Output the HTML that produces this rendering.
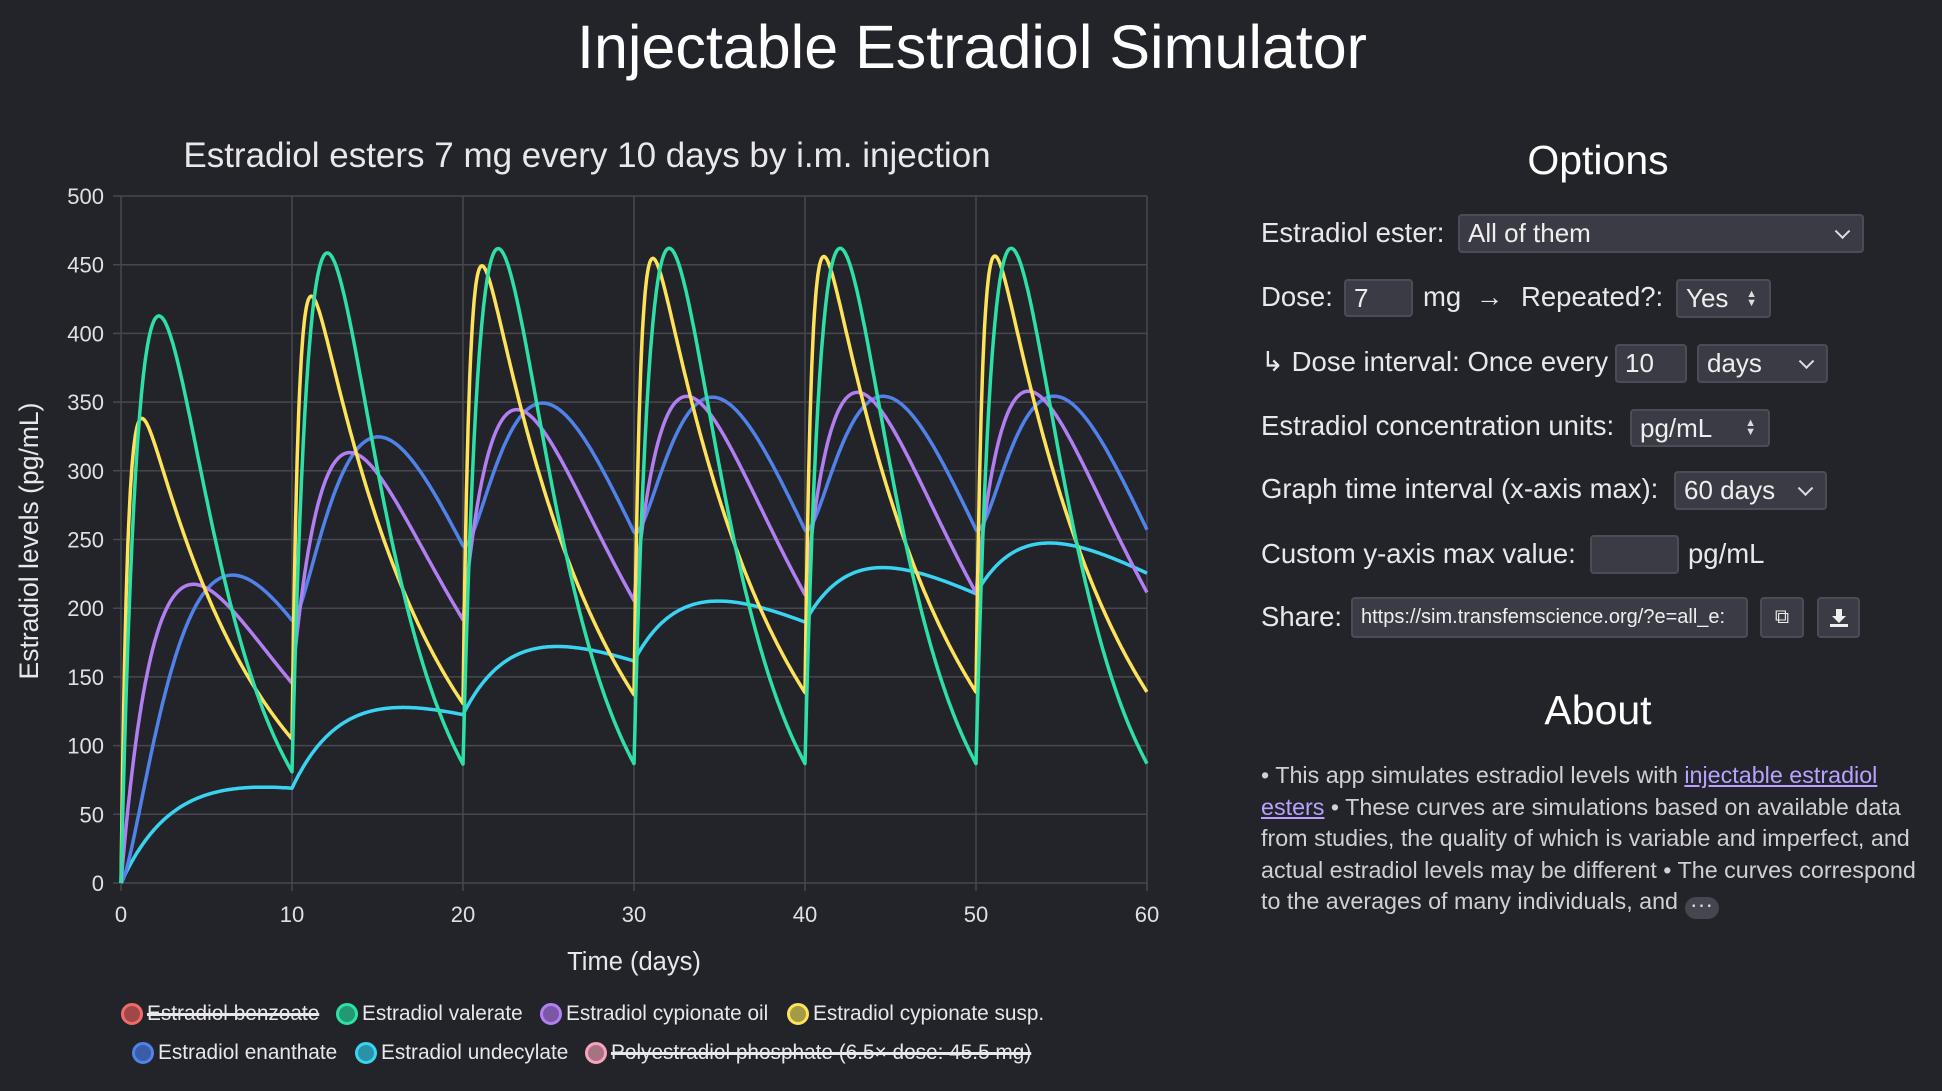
<!DOCTYPE html>
<html><head><meta charset="utf-8">
<style>
body{margin:0;width:1942px;height:1091px;background:#232429;color:#e8e8ec;font-family:"Liberation Sans",sans-serif;overflow:hidden;position:relative}
.a{position:absolute;white-space:nowrap}
.lbl{font-size:27.5px;line-height:30px}
.ctl{position:absolute;background:#3a3b44;border:2px solid #4b4c56;border-radius:4px;box-sizing:border-box;font-size:26px;color:#eee;padding-left:8px;display:flex;align-items:center}
.chev{position:absolute;right:14px;top:50%;width:9px;height:9px;border-right:2px solid #ddd;border-bottom:2px solid #ddd;transform:translateY(-75%) rotate(45deg)}
.spin{position:absolute;right:12px;top:50%;transform:translateY(-50%);font-size:11px;line-height:9px;color:#ddd;text-align:center}
.leg{position:absolute;font-size:20.8px;line-height:24px;white-space:nowrap}
.dot{display:inline-block;width:16px;height:16px;border-radius:50%;border:3px solid;vertical-align:-5px;margin-right:4px}
.st{text-decoration:line-through;text-decoration-thickness:3px}
.about{position:absolute;left:1261px;top:760px;width:680px;font-size:23.3px;line-height:31.5px;color:#cfcfd4;white-space:nowrap}
.about a{color:#b9a2ff;text-decoration:underline}
</style></head><body>
<div class="a" style="left:0;width:1944px;text-align:center;top:13px;font-size:61px;line-height:68px;color:#fff">Injectable Estradiol Simulator</div>
<div class="a" style="left:0;width:1174px;text-align:center;top:136px;font-size:35px;line-height:40px;color:#e8e8ec">Estradiol esters 7 mg every 10 days by i.m. injection</div>

<svg class="a" style="left:0;top:0" width="1200" height="1091" id="chart">
<g id="grid" stroke="#47484e" stroke-width="1.5"></g>
<g id="ylab" font-family="Liberation Sans" font-size="22" fill="#e0e0e4" text-anchor="end"></g>
<g id="xlab" font-family="Liberation Sans" font-size="22" fill="#e0e0e4" text-anchor="middle"></g>
<text x="31" y="541" transform="rotate(-90 31 541)" text-anchor="middle" dominant-baseline="middle" font-family="Liberation Sans" font-size="26.5" fill="#e8e8ec">Estradiol levels (pg/mL)</text>
<text x="634" y="970" text-anchor="middle" font-family="Liberation Sans" font-size="25.5" fill="#e8e8ec">Time (days)</text>
<g id="curves" fill="none" stroke-width="3.5" stroke-linejoin="round"></g>
</svg>

<div class="leg" style="left:121px;top:1002px"><span class="dot" style="border-color:#f06a6a;background:#a04848"></span><span class="st">Estradiol benzoate</span></div>
<div class="leg" style="left:336px;top:1002px"><span class="dot" style="border-color:#2fe0a6;background:#229873"></span>Estradiol valerate</div>
<div class="leg" style="left:540px;top:1002px"><span class="dot" style="border-color:#b27ff2;background:#7a58a6"></span>Estradiol cypionate oil</div>
<div class="leg" style="left:787px;top:1002px"><span class="dot" style="border-color:#fde25a;background:#a49a48"></span>Estradiol cypionate susp.</div>
<div class="leg" style="left:132px;top:1041px"><span class="dot" style="border-color:#5082ea;background:#3b5ca6"></span>Estradiol enanthate</div>
<div class="leg" style="left:355px;top:1041px"><span class="dot" style="border-color:#3ad3f2;background:#2a92a8"></span>Estradiol undecylate</div>
<div class="leg" style="left:585px;top:1041px"><span class="dot" style="border-color:#f7a3bd;background:#a87282"></span><span class="st">Polyestradiol phosphate (6.5× dose: 45.5 mg)</span></div>

<div class="a" style="left:1200px;width:796px;text-align:center;top:136px;font-size:41px;line-height:48px;color:#fff">Options</div>

<div class="a lbl" style="left:1261px;top:218px">Estradiol ester:</div>
<div class="ctl" style="left:1458px;top:214px;width:406px;height:39px">All of them<span class="chev"></span></div>

<div class="a lbl" style="left:1261px;top:282px">Dose:</div>
<div class="ctl" style="left:1344px;top:279px;width:69px;height:38px">7</div>
<div class="a lbl" style="left:1423px;top:282px">mg</div>
<div class="a lbl" style="left:1476px;top:282px">→</div>
<div class="a lbl" style="left:1521px;top:282px">Repeated?:</div>
<div class="ctl" style="left:1676px;top:279px;width:95px;height:39px">Yes<span class="spin">▲<br>▼</span></div>

<div class="a lbl" style="left:1261px;top:347px">↳ Dose interval: Once every</div>
<div class="ctl" style="left:1615px;top:344px;width:72px;height:39px">10</div>
<div class="ctl" style="left:1697px;top:344px;width:131px;height:39px">days<span class="chev"></span></div>

<div class="a lbl" style="left:1261px;top:411px">Estradiol concentration units:</div>
<div class="ctl" style="left:1630px;top:409px;width:140px;height:38px">pg/mL<span class="spin">▲<br>▼</span></div>

<div class="a lbl" style="left:1261px;top:474px">Graph time interval (x-axis max):</div>
<div class="ctl" style="left:1674px;top:471px;width:153px;height:39px">60 days<span class="chev"></span></div>

<div class="a lbl" style="left:1261px;top:539px">Custom y-axis max value:</div>
<div class="ctl" style="left:1590px;top:535px;width:89px;height:39px"></div>
<div class="a lbl" style="left:1688px;top:539px">pg/mL</div>

<div class="a lbl" style="left:1261px;top:602px">Share:</div>
<div class="ctl" style="left:1351px;top:597px;width:397px;height:41px;font-size:20px;overflow:hidden">https://sim.transfemscience.org/?e=all_e:</div>
<div class="ctl" style="left:1760px;top:597px;width:44px;height:41px;padding:0;justify-content:center;font-size:20px">⧉</div>
<div class="ctl" style="left:1817px;top:597px;width:43px;height:41px;padding:0;justify-content:center">
<svg width="22" height="22" viewBox="0 0 22 22"><path d="M8 2h6v7h4l-7 7-7-7h4z" fill="#eee"/><rect x="2" y="17" width="18" height="3" fill="#eee"/></svg></div>

<div class="a" style="left:1200px;width:796px;text-align:center;top:686px;font-size:41px;line-height:48px;color:#fff">About</div>
<div class="about">• This app simulates estradiol levels with <a>injectable estradiol</a><br><a>esters</a> • These curves are simulations based on available data<br>from studies, the quality of which is variable and imperfect, and<br>actual estradiol levels may be different • The curves correspond<br>to the averages of many individuals, and <span style="display:inline-block;background:#45464f;border-radius:12px;width:34px;height:22px;line-height:14px;text-align:center;vertical-align:-3px;color:#ddd">···</span></div>

<script>
var X=function(t){return 121+t*1026/60},Y=function(v){return 883-v*687/500};
var g=document.getElementById('grid'),yl=document.getElementById('ylab'),xl=document.getElementById('xlab'),ns='http://www.w3.org/2000/svg';
function el(p,n,a,txt){var e=document.createElementNS(ns,n);for(var k in a)e.setAttribute(k,a[k]);if(txt!==undefined)e.textContent=txt;p.appendChild(e);return e}
for(var v=0;v<=500;v+=50){el(g,'line',{x1:113,x2:1147,y1:Y(v),y2:Y(v)});el(yl,'text',{x:104,y:Y(v)+8},v)}
for(var t=0;t<=60;t+=10){el(g,'line',{x1:X(t),x2:X(t),y1:196,y2:891});el(xl,'text',{x:X(t),y:922},t)}
function bat(A,ka,ke){return function(t){return A*(Math.exp(-ke*t)-Math.exp(-ka*t))}}
var S=[
 {c:'#3ad3f2',f:bat(102,0.3,0.032)},
 {c:'#5082ea',f:function(t){return 60.3*Math.pow(t,1.5)*Math.exp(-0.23*t)}},
 {c:'#b27ff2',f:bat(511,0.41,0.12)},
 {c:'#fde25a',f:bat(425,2.5,0.14)},
 {c:'#2fe0a6',f:bat(1222,0.7,0.27)}
];
var cg=document.getElementById('curves');
S.forEach(function(s){var d='';for(var i=0;i<=1200;i++){var t=i*0.05,v=0;for(var k=0;k<6;k++){var tt=t-10*k;if(tt>0)v+=s.f(tt);}
d+=(i?'L':'M')+X(t).toFixed(1)+' '+Y(v).toFixed(1);}el(cg,'path',{d:d,stroke:s.c});});
</script>
</body></html>
